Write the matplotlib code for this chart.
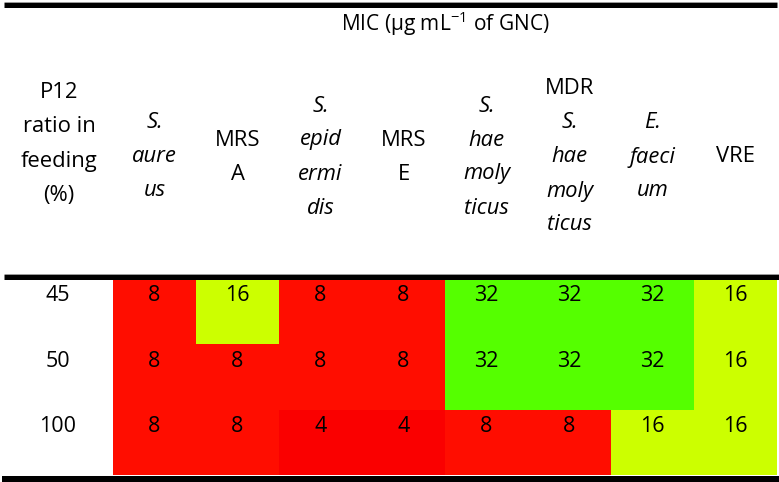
import matplotlib
matplotlib.use("Agg")
import matplotlib.pyplot as plt
import numpy as np
from matplotlib.colors import ListedColormap, BoundaryNorm
from matplotlib.transforms import blended_transform_factory
from matplotlib.lines import Line2D

plt.rcParams['font.family'] = ['Open Sans', 'DejaVu Sans']
plt.rcParams['mathtext.fontset'] = 'custom'
plt.rcParams['mathtext.rm'] = 'Open Sans'
plt.rcParams['mathtext.it'] = 'Open Sans:italic'

# ---- data ----
title = r"MIC (μg mL$^{-1}$ of GNC)"
row_header = ["P12", "ratio in", "feeding", "(%)"]
ratios = ["45", "50", "100"]
# header lines: (text, italic)
col_headers = [
    [("S.", True), ("aure", True), ("us", True)],
    [("MRS", False), ("A", False)],
    [("S.", True), ("epid", True), ("ermi", True), ("dis", True)],
    [("MRS", False), ("E", False)],
    [("S.", True), ("hae", True), ("moly", True), ("ticus", True)],
    [("MDR", False), ("S.", True), ("hae", True), ("moly", True), ("ticus", True)],
    [("E.", True), ("faeci", True), ("um", True)],
    [("VRE", False)],
]
mic_45 = [8, 16, 8, 8, 32, 32, 32, 16]
mic_50 = [8, 8, 8, 8, 32, 32, 32, 16]
mic_100 = [8, 8, 4, 4, 8, 8, 16, 16]
mic_levels = [4, 8, 16, 32]
level_colors = ["#FA0000", "#FF0D00", "#CCFF00", "#55FF00"]

W, H = 779, 482
fig = plt.figure(figsize=(W / 100, H / 100), dpi=100)

# heatmap axes in pixel layout
x0, x1 = 113, 777
y0, y1 = 279, 475
ax = fig.add_axes([x0 / W, (H - y1) / H, (x1 - x0) / W, (y1 - y0) / H])
data = np.array([mic_45, mic_50, mic_100], dtype=float)
cmap = ListedColormap(level_colors)
bounds = [3, 6, 12, 24, 48]
norm = BoundaryNorm(bounds, cmap.N)
ax.pcolormesh(np.arange(data.shape[1] + 1), np.arange(data.shape[0] + 1), data,
              cmap=cmap, norm=norm, shading="flat")
ax.set_xlim(0, data.shape[1])
ax.set_ylim(data.shape[0], 0)
ax.axis("off")

fs_cell = 15.5
for i in range(data.shape[0]):
    for j in range(data.shape[1]):
        ax.text(j + 0.5, i + 0.26, f"{int(data[i, j])}", ha="center", va="center",
                fontsize=fs_cell, color="black")

# row labels
tr_rows = blended_transform_factory(fig.transFigure, ax.transData)
for i, r in enumerate(ratios):
    ax.text(57.5 / W, i + 0.26, r, transform=tr_rows, ha="center", va="center",
            fontsize=fs_cell, color="black")

# column headers
tr_cols = blended_transform_factory(ax.transData, fig.transFigure)
line_gap = 34.0
fs_head = 15.8
for j, lines in enumerate(col_headers):
    n = len(lines)
    for k, (txt, it) in enumerate(lines):
        ypx = 157 + (k - (n - 1) / 2) * line_gap
        ax.text(j + 0.5, (H - ypx) / H, txt, transform=tr_cols, ha="center", va="center",
                fontsize=fs_head, style="italic" if it else "normal", color="black")

# first column header
n = len(row_header)
for k, txt in enumerate(row_header):
    ypx = 144 + (k - (n - 1) / 2) * line_gap
    fig.text(59 / W, (H - ypx) / H, txt, ha="center", va="center", fontsize=fs_head)

# title
tr_t = blended_transform_factory(ax.transAxes, fig.transFigure)
ax.text(0.5, (H - 24) / H, title, transform=tr_t, ha="center", va="center", fontsize=15)

# rules
def hrule(ypx, xa, xb, lw_px, color="black"):
    fig.add_artist(Line2D([xa / W, xb / W], [(H - ypx) / H] * 2, transform=fig.transFigure,
                          color=color, linewidth=lw_px * 72 / 100, solid_capstyle="butt"))

hrule(1.5, 4, 777, 1, "#9a9a9a")
hrule(4.5, 4, 777, 5)
hrule(273.5, 4, 779, 1, "#9a9a9a")
hrule(276.5, 4, 779, 5)
hrule(478.5, 2, 779, 6)

fig.savefig("out.png", dpi=100)
